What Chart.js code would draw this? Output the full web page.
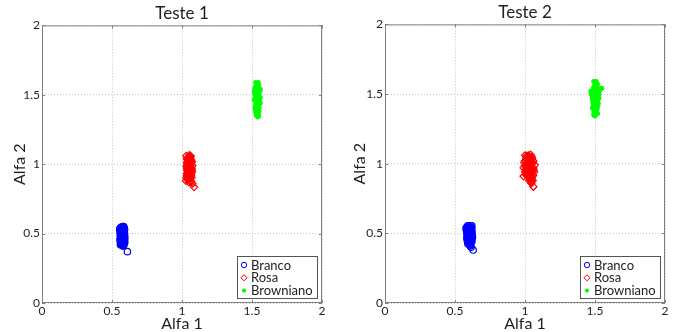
<!DOCTYPE html>
<html>
<head>
<meta charset="utf-8">
<script src="https://cdn.jsdelivr.net/npm/chart.js@4/dist/chart.umd.min.js"></script>
<style>
  html, body { margin: 0; padding: 0; background: #fff; }
  .panel { position: absolute; top: 0; height: 332px; }
  #panel-1 { left: 0; width: 340px; }
  #panel-2 { left: 340px; width: 339px; }
</style>
</head>
<body>
<div class="panel" id="panel-1"><canvas id="chart-1" width="340" height="332"></canvas></div>
<div class="panel" id="panel-2"><canvas id="chart-2" width="339" height="332"></canvas></div>
<script>
const seriesLabels = ["Branco", "Rosa", "Browniano"];
const axisTicks = [0, 0.5, 1, 1.5, 2];

// Teste 1
const branco1 = [
  [0.57,0.50],[0.56,0.48],[0.58,0.52],[0.575,0.46],[0.565,0.53],[0.59,0.49],[0.56,0.44],[0.58,0.43],
  [0.57,0.54],[0.585,0.51],[0.562,0.47],[0.578,0.45],[0.568,0.42],[0.59,0.53],[0.558,0.51],[0.572,0.48],
  [0.583,0.47],[0.566,0.45],[0.575,0.55],[0.56,0.54],[0.588,0.44],[0.57,0.43],[0.58,0.50],[0.565,0.49],
  [0.592,0.47],[0.574,0.52],[0.561,0.46],[0.579,0.54],[0.569,0.51],[0.586,0.42],[0.555,0.53],[0.577,0.41],
  [0.583,0.55],[0.571,0.46],[0.564,0.50],[0.59,0.45],[0.573,0.44],[0.58,0.48],[0.56,0.42],[0.61,0.37],
  [0.563,0.515],[0.577,0.495],[0.585,0.485],[0.559,0.495],[0.571,0.525],[0.582,0.535],[0.567,0.435],
  [0.581,0.455],[0.557,0.455],[0.574,0.475],[0.589,0.505],[0.566,0.545],[0.578,0.425],[0.562,0.425],
  [0.587,0.525],[0.571,0.445],[0.557,0.535],[0.584,0.445],[0.569,0.465],[0.576,0.505],[0.591,0.435],
  [0.563,0.485],[0.58,0.415],[0.586,0.545],[0.573,0.535],
];
const rosa1 = [
  [1.05,0.98],[1.04,1.02],[1.06,0.95],[1.045,0.91],[1.055,1.05],[1.035,0.97],[1.065,1.00],[1.05,0.93],
  [1.04,0.89],[1.06,1.04],[1.03,1.06],[1.07,0.97],[1.045,0.99],[1.055,0.90],[1.035,0.93],[1.065,0.92],
  [1.05,1.03],[1.04,0.96],[1.06,0.88],[1.07,1.02],[1.045,1.05],[1.055,0.97],[1.035,1.01],[1.065,0.95],
  [1.05,0.87],[1.04,0.94],[1.06,1.06],[1.03,0.90],[1.075,0.99],[1.045,1.00],[1.055,0.94],[1.035,1.04],
  [1.065,1.03],[1.05,0.96],[1.04,1.00],[1.06,0.91],[1.07,0.94],[1.075,0.86],[1.028,0.88],[1.086,0.835],
  [1.042,0.975],[1.058,0.985],[1.048,1.015],[1.068,1.015],[1.038,0.955],[1.062,0.965],[1.052,0.945],
  [1.042,0.925],[1.058,0.925],[1.068,0.905],[1.048,0.895],[1.038,1.035],[1.058,1.025],[1.032,0.985],
  [1.072,0.955],[1.052,1.065],[1.042,1.045],[1.062,1.055],[1.048,0.975],[1.055,0.995],[1.035,0.915],
  [1.065,0.875],[1.045,0.945],[1.06,1.01],[1.05,0.915],
];
const browniano1 = [
  [1.53,1.58],[1.54,1.56],[1.52,1.55],[1.55,1.57],[1.535,1.53],[1.525,1.51],[1.545,1.52],[1.53,1.49],
  [1.55,1.50],[1.52,1.47],[1.54,1.48],[1.535,1.45],[1.555,1.46],[1.525,1.43],[1.545,1.44],[1.53,1.41],
  [1.55,1.42],[1.54,1.39],[1.52,1.40],[1.535,1.37],[1.545,1.36],[1.53,1.35],[1.54,1.34],[1.525,1.59],
  [1.545,1.59],[1.56,1.54],[1.515,1.52],[1.56,1.48],[1.515,1.46],[1.56,1.44],[1.525,1.38],[1.55,1.38],
  [1.535,1.57],[1.54,1.54],[1.53,1.51],[1.54,1.46],[1.535,1.43],[1.53,1.47],[1.545,1.40],[1.52,1.50],
  [1.527,1.565],[1.548,1.545],[1.532,1.525],[1.552,1.515],[1.522,1.485],[1.542,1.495],[1.557,1.475],
  [1.527,1.455],[1.548,1.465],[1.538,1.425],[1.522,1.415],[1.552,1.405],[1.532,1.395],[1.545,1.375],
  [1.527,1.365],[1.538,1.355],[1.548,1.345],[1.533,1.585],[1.518,1.535],[1.558,1.525],[1.537,1.505],
  [1.528,1.445],[1.553,1.435],[1.542,1.415],[1.533,1.385],
];

// Teste 2
const branco2 = [
  [0.60,0.50],[0.59,0.48],[0.61,0.53],[0.605,0.46],[0.585,0.52],[0.62,0.49],[0.59,0.44],[0.61,0.43],
  [0.60,0.55],[0.615,0.51],[0.58,0.54],[0.595,0.47],[0.60,0.42],[0.62,0.52],[0.585,0.50],[0.605,0.48],
  [0.615,0.46],[0.595,0.45],[0.61,0.555],[0.59,0.555],[0.62,0.45],[0.60,0.44],[0.61,0.50],[0.59,0.51],
  [0.625,0.47],[0.605,0.53],[0.585,0.47],[0.615,0.54],[0.595,0.52],[0.61,0.41],[0.58,0.53],[0.605,0.42],
  [0.62,0.54],[0.60,0.46],[0.59,0.49],[0.62,0.44],[0.60,0.45],[0.61,0.48],[0.615,0.40],[0.63,0.38],
  [0.592,0.535],[0.607,0.515],[0.618,0.495],[0.588,0.485],[0.603,0.545],[0.613,0.525],[0.598,0.435],
  [0.612,0.455],[0.586,0.455],[0.602,0.475],[0.622,0.505],[0.594,0.545],[0.607,0.425],[0.592,0.425],
  [0.617,0.535],[0.60,0.515],[0.583,0.515],[0.618,0.465],[0.597,0.495],[0.608,0.505],[0.624,0.485],
  [0.593,0.465],[0.612,0.415],[0.62,0.555],[0.602,0.535],
];
const rosa2 = [
  [1.02,0.98],[1.00,1.02],[1.04,0.95],[1.01,0.93],[1.03,1.05],[0.99,0.97],[1.05,1.00],[1.03,0.92],
  [1.04,0.89],[1.05,1.04],[1.00,1.06],[1.06,0.97],[1.02,1.00],[1.035,0.90],[1.00,0.94],[1.05,0.92],
  [1.02,1.04],[1.01,0.96],[1.045,0.87],[1.06,1.02],[1.04,1.065],[1.03,0.97],[0.995,1.01],[1.055,0.95],
  [1.045,0.86],[1.015,0.95],[1.025,1.06],[0.99,0.91],[1.07,0.99],[1.03,1.01],[1.02,0.94],[1.01,1.04],
  [1.04,1.03],[1.035,0.96],[1.01,0.99],[1.05,0.90],[1.065,0.94],[1.055,0.88],[1.03,0.88],[1.06,0.835],
  [1.012,0.975],[1.028,0.985],[1.018,1.015],[1.042,1.015],[1.005,0.955],[1.042,0.965],[1.025,0.945],
  [1.012,0.915],[1.045,0.935],[1.058,0.915],[1.035,0.875],[1.008,1.035],[1.03,1.025],[0.998,0.985],
  [1.062,0.955],[1.02,1.055],[1.012,1.055],[1.048,1.05],[1.035,0.985],[1.025,0.965],[1.005,0.925],
  [1.05,0.875],[1.038,0.945],[1.055,1.01],[1.02,0.925],
];
const browniano2 = [
  [1.50,1.58],[1.51,1.56],[1.49,1.55],[1.52,1.57],[1.50,1.53],[1.48,1.51],[1.51,1.52],[1.49,1.49],
  [1.53,1.50],[1.47,1.50],[1.50,1.48],[1.52,1.45],[1.54,1.54],[1.48,1.46],[1.51,1.44],[1.49,1.42],
  [1.52,1.41],[1.50,1.39],[1.48,1.40],[1.51,1.37],[1.52,1.36],[1.49,1.35],[1.50,1.34],[1.49,1.59],
  [1.51,1.59],[1.55,1.54],[1.47,1.52],[1.53,1.47],[1.485,1.44],[1.525,1.43],[1.495,1.38],[1.515,1.39],
  [1.505,1.57],[1.50,1.51],[1.495,1.46],[1.515,1.47],[1.505,1.43],[1.53,1.52],[1.49,1.36],[1.48,1.48],
  [1.497,1.565],[1.515,1.545],[1.502,1.525],[1.522,1.515],[1.485,1.485],[1.512,1.495],[1.525,1.475],
  [1.492,1.455],[1.508,1.465],[1.502,1.425],[1.488,1.415],[1.515,1.405],[1.497,1.395],[1.508,1.375],
  [1.497,1.365],[1.505,1.355],[1.495,1.345],[1.503,1.585],[1.485,1.535],[1.535,1.535],[1.505,1.505],
  [1.49,1.445],[1.52,1.435],[1.512,1.415],[1.49,1.385],
];

const fontFamily = "Lato, 'Open Sans', sans-serif";
const textColor = "#1e1e1e";
const gridColor = "#c4c4c4";
const boxColor = "#808080";

function toPoints(pairs) {
  return pairs.map(([x, y]) => ({ x, y }));
}

function buildDatasets(branco, rosa, browniano) {
  return [
    {
      label: seriesLabels[0],
      data: toPoints(branco),
      pointStyle: "circle",
      pointRadius: 3.2,
      borderWidth: 1.2,
      borderColor: "#0000ff",
      backgroundColor: "rgba(0,0,0,0)",
    },
    {
      label: seriesLabels[1],
      data: toPoints(rosa),
      pointStyle: "rectRot",
      pointRadius: 3.6,
      borderWidth: 1.2,
      borderColor: "#ff0000",
      backgroundColor: "rgba(0,0,0,0)",
    },
    {
      label: seriesLabels[2],
      data: toPoints(browniano),
      pointStyle: "circle",
      pointRadius: 2.4,
      borderWidth: 0,
      borderColor: "#00ff00",
      backgroundColor: "#00ff00",
    },
  ];
}

// box around the axes, inward tick marks and the legend in the lower right
const frameAndLegend = {
  id: "frameAndLegend",
  afterDraw(chart) {
    const { ctx, chartArea: area, scales } = chart;
    ctx.save();
    ctx.strokeStyle = boxColor;
    ctx.lineWidth = 1;
    ctx.strokeRect(area.left + 0.5, area.top + 0.5, area.right - area.left - 1, area.bottom - area.top - 1);

    ctx.beginPath();
    axisTicks.forEach((v) => {
      const px = Math.round(scales.x.getPixelForValue(v)) + 0.5;
      const py = Math.round(scales.y.getPixelForValue(v)) + 0.5;
      ctx.moveTo(px, area.bottom);
      ctx.lineTo(px, area.bottom - 3);
      ctx.moveTo(px, area.top);
      ctx.lineTo(px, area.top + 3);
      ctx.moveTo(area.left, py);
      ctx.lineTo(area.left + 3, py);
      ctx.moveTo(area.right, py);
      ctx.lineTo(area.right - 3, py);
    });
    ctx.stroke();

    const boxW = 80;
    const boxH = 42;
    const bx = area.right - 5 - boxW;
    const by = area.bottom - 5 - boxH;
    ctx.fillStyle = "#fff";
    ctx.fillRect(bx, by, boxW, boxH);
    ctx.strokeStyle = "#555";
    ctx.strokeRect(bx + 0.5, by + 0.5, boxW, boxH);

    ctx.font = `13px ${fontFamily}`;
    ctx.textBaseline = "middle";
    chart.data.datasets.forEach((ds, i) => {
      const cy = by + 9 + i * 12.8;
      const cx = bx + 7;
      ctx.fillStyle = ds.backgroundColor;
      ctx.strokeStyle = ds.borderColor;
      ctx.lineWidth = 1;
      Chart.helpers.drawPoint(ctx, {
        pointStyle: ds.pointStyle,
        radius: ds.pointRadius * 0.85,
        borderWidth: ds.borderWidth,
        rotation: 0,
      }, cx, cy);
      ctx.fillStyle = textColor;
      ctx.fillText(ds.label, bx + 14, cy + 0.5);
    });
    ctx.restore();
  },
};

function createPanel(canvasId, title, datasets, leftWidth, rightPad, topPad) {
  const ctx = document.getElementById(canvasId).getContext("2d");
  return new Chart(ctx, {
    type: "scatter",
    data: { datasets },
    options: {
      responsive: false,
      animation: false,
      layout: { padding: { left: 0, right: rightPad, top: 0, bottom: 0 } },
      plugins: {
        legend: { display: false },
        tooltip: { enabled: false },
        title: {
          display: true,
          fullSize: false,
          text: title,
          color: textColor,
          font: { family: fontFamily, size: 17, weight: "normal", lineHeight: 1.2 },
          padding: { top: topPad, bottom: 2 },
        },
      },
      scales: {
        x: {
          type: "linear",
          min: 0,
          max: 2,
          afterBuildTicks: (scale) => {
            scale.ticks = axisTicks.map((value) => ({ value }));
          },
          afterFit: (scale) => {
            scale.height = 29;
          },
          ticks: {
            color: textColor,
            padding: 1,
            font: { family: fontFamily, size: 12 },
            callback: (v) => String(v),
          },
          grid: {
            color: gridColor,
            drawTicks: false,
          },
          border: { display: false, dash: [1, 2] },
          title: {
            display: true,
            text: "Alfa 1",
            color: textColor,
            font: { family: fontFamily, size: 16, lineHeight: 1 },
            padding: { top: 0, bottom: 0 },
          },
        },
        y: {
          type: "linear",
          min: 0,
          max: 2,
          afterBuildTicks: (scale) => {
            scale.ticks = axisTicks.map((value) => ({ value }));
          },
          afterFit: (scale) => {
            scale.width = leftWidth;
          },
          ticks: {
            color: textColor,
            padding: 2,
            font: { family: fontFamily, size: 12 },
            callback: (v) => String(v),
          },
          grid: {
            color: gridColor,
            drawTicks: false,
          },
          border: { display: false, dash: [1, 2] },
          title: {
            display: true,
            text: "Alfa 2",
            color: textColor,
            font: { family: fontFamily, size: 16, lineHeight: 1 },
            padding: { top: 12, bottom: 0 },
          },
        },
      },
    },
    plugins: [frameAndLegend],
  });
}

function init() {
  createPanel("chart-1", "Teste 1", buildDatasets(branco1, rosa1, browniano1), 42, 18, 3);
  createPanel("chart-2", "Teste 2", buildDatasets(branco2, rosa2, browniano2), 45, 14, 2);
}

init();
</script>
</body>
</html>
